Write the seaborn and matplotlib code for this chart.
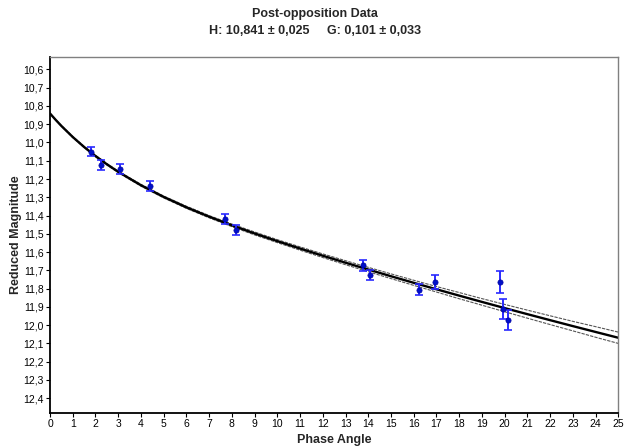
import numpy as np
import pandas as pd
import matplotlib
matplotlib.use("Agg")
import matplotlib.pyplot as plt
import seaborn as sns
from matplotlib.ticker import FuncFormatter

obs_phase = [1.79, 2.24, 3.09, 4.40, 7.70, 8.18, 13.76, 14.08, 16.23, 16.94, 19.81, 19.93, 20.15]
obs_mag = [11.050, 11.123, 11.145, 11.238, 11.420, 11.478, 11.673, 11.726, 11.805, 11.763, 11.764, 11.913, 11.974]
obs_err = [0.025, 0.026, 0.029, 0.026, 0.026, 0.027, 0.030, 0.027, 0.032, 0.039, 0.059, 0.055, 0.055]

# Fitted phase curve and its band
curve_phase = [0, 0.25, 0.5, 1, 1.5, 2, 2.5, 3, 4, 5, 6, 7, 8, 9, 10,
               11, 12, 13, 14, 15, 16, 17, 18, 19, 20, 21, 22, 23, 24, 25]
curve_mag = [10.8410, 10.8761, 10.9092, 10.9699, 11.0245, 11.0739, 11.1190, 11.1604, 11.2339,
             11.2979, 11.3547, 11.4060, 11.4534, 11.4978, 11.5399, 11.5804, 11.6197, 11.6579,
             11.6953, 11.7320, 11.7680, 11.8034, 11.8382, 11.8725, 11.9063, 11.9396, 11.9725,
             12.0050, 12.0370, 12.0688]
band_half = [0.001, 0.002, 0.002, 0.003, 0.003, 0.004, 0.004, 0.004, 0.005, 0.005, 0.006, 0.006,
             0.007, 0.008, 0.008, 0.009, 0.010, 0.011, 0.012, 0.013, 0.014, 0.015, 0.017, 0.018,
             0.020, 0.022, 0.024, 0.026, 0.029, 0.031]

title_line1 = "Post-opposition Data"
title_line2 = "H: 10,841 \u00b1 0,025     G: 0,101 \u00b1 0,033"
x_label = "Phase Angle"
y_label = "Reduced Magnitude"
x_ticks = list(range(0, 26))
y_ticks = [10.6, 10.7, 10.8, 10.9, 11.0, 11.1, 11.2, 11.3, 11.4, 11.5, 11.6, 11.7, 11.8,
           11.9, 12.0, 12.1, 12.2, 12.3, 12.4]

sns.set_theme(style="white")
plt.rcParams['font.family'] = ['Liberation Sans', 'DejaVu Sans']

curve = pd.DataFrame({"phase": curve_phase, "mag": curve_mag, "half": band_half})
curve["upper"] = curve["mag"] - curve["half"]
curve["lower"] = curve["mag"] + curve["half"]
obs = pd.DataFrame({"phase": obs_phase, "mag": obs_mag, "err": obs_err})

fig = plt.figure(figsize=(6.3, 4.46), dpi=100)
ax = fig.add_axes([50 / 630, 1 - 412.7 / 446, (618.3 - 50) / 630, (412.7 - 57) / 446])

sns.lineplot(data=curve, x="phase", y="upper", ax=ax, color="#555555", lw=0.8,
             linestyle=(0, (3, 1)), sort=False)
sns.lineplot(data=curve, x="phase", y="lower", ax=ax, color="#555555", lw=0.8,
             linestyle=(0, (3, 1)), sort=False)
sns.lineplot(data=curve, x="phase", y="mag", ax=ax, color="black", lw=1.7, sort=False)

ax.errorbar(obs["phase"], obs["mag"], yerr=obs["err"], fmt="none", ecolor="#2a2aff",
            elinewidth=1.4, capsize=3, capthick=1.2, zorder=4)
sns.scatterplot(data=obs, x="phase", y="mag", ax=ax, color="#0010c8", s=14,
                edgecolor="#0000a0", linewidth=0.5, zorder=5)

ax.set_xlim(0, 25)
ax.set_ylim(12.479, 10.532)
ax.set_xticks(x_ticks)
ax.set_yticks(y_ticks)
ax.xaxis.set_major_formatter(FuncFormatter(lambda v, p: f"{v:.0f}"))
ax.yaxis.set_major_formatter(FuncFormatter(lambda v, p: f"{v:.1f}".replace(".", ",")))
ax.tick_params(axis="both", which="major", direction="out", length=3, width=0.8,
               labelsize=7.5, colors="black", pad=1.5, bottom=True, left=True)

for side in ["left", "bottom"]:
    ax.spines[side].set_color("black")
    ax.spines[side].set_linewidth(1.3)
for side in ["top", "right"]:
    ax.spines[side].set_color("#808080")
    ax.spines[side].set_linewidth(1.0)

ax.set_xlabel(x_label, fontsize=9, fontweight="bold")
ax.set_ylabel(y_label, fontsize=9, fontweight="bold")
ax.xaxis.set_label_coords(0.5, (412.7 - 434) / 355.7)
ax.yaxis.set_label_coords((22 - 50) / 568.3, 0.5)

fig.text(0.5, 1 - 14 / 446, title_line1, ha="center", va="center", fontsize=9, fontweight="bold")
fig.text(0.5, 1 - 31 / 446, title_line2, ha="center", va="center", fontsize=9, fontweight="bold")

fig.savefig("out.png", dpi=100)
